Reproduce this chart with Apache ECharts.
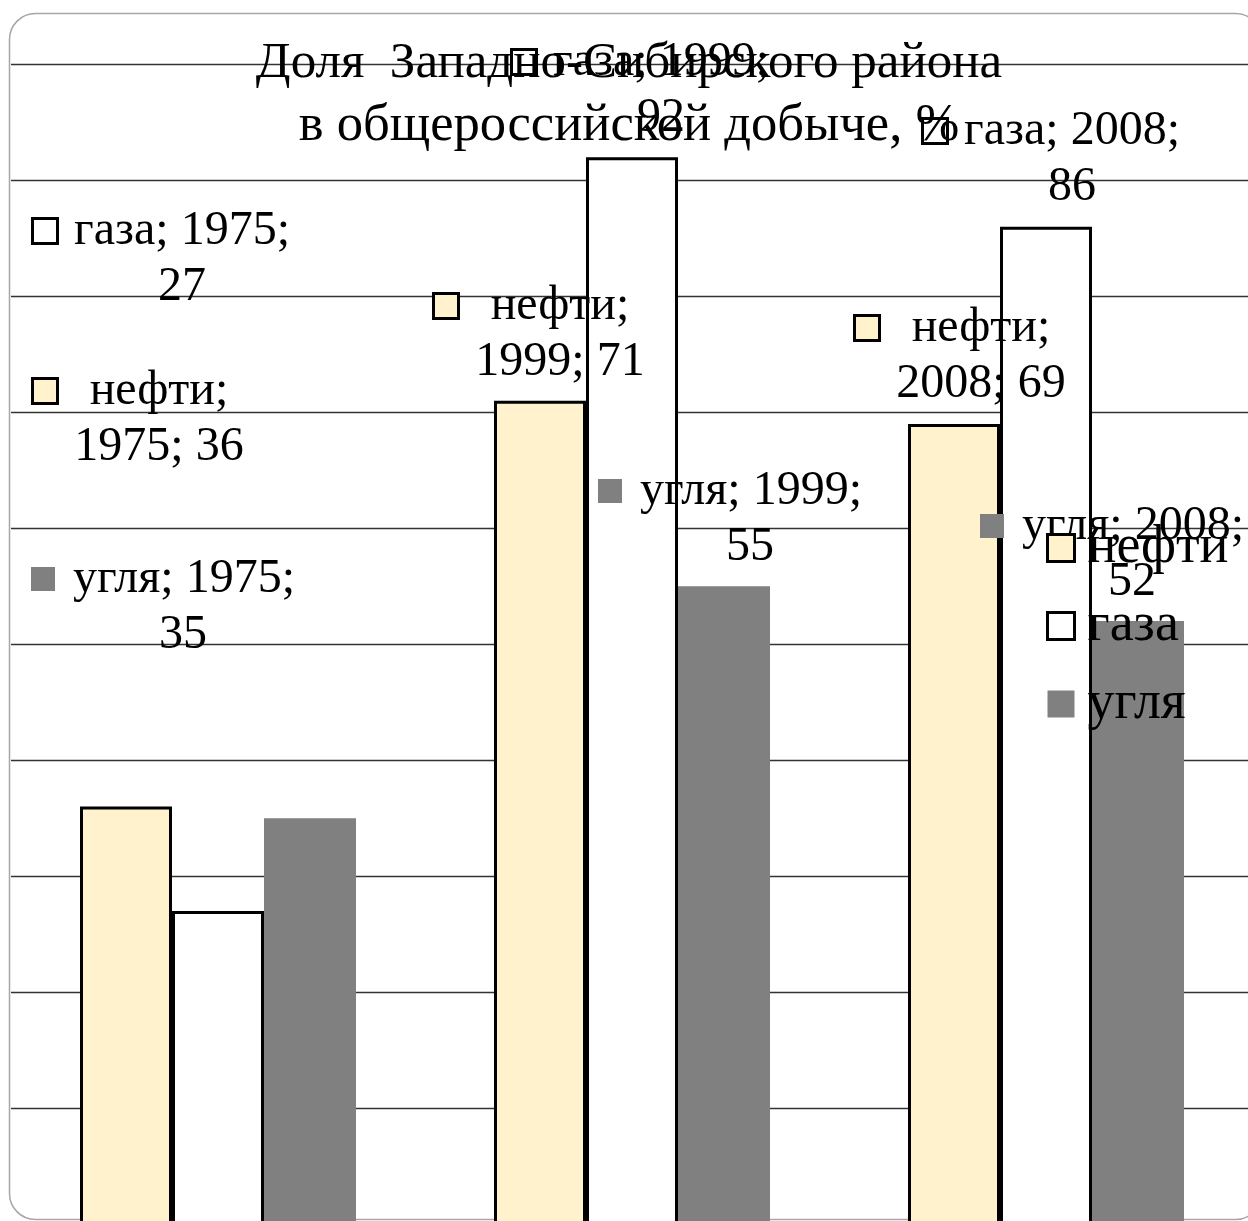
<!DOCTYPE html>
<html><head><meta charset="utf-8">
<script src="https://cdn.jsdelivr.net/npm/echarts@6/dist/echarts.min.js"></script>
<style>html,body{margin:0;padding:0;background:#fff;overflow:hidden}#c{width:1248px;height:1221px}</style>
</head><body><div id="c"></div>
<script>
// ---- data ----
const categories = ['1975', '1999', '2008'];
const seriesNames = ['нефти', 'газа', 'угля'];
const oilShare = [36, 71, 69];
const gasShare = [27, 92, 86];
const coalShare = [35, 55, 52];
const titleLines = ['Доля  Западно-Сибирского района', 'в общероссийской добыче, %'];
const yMin = 0, yMax = 100, yStep = 10;

// ---- layout / style (not data) ----
// label anchor: [text centre x, first line centre y] in px
const labelAnchors = {
  'нефти': [[159, 391], [560, 306], [981, 328]],
  'газа':  [[182, 231], [661, 62], [1072, 131]],
  'угля':  [[183, 579], [750, 491], [1132, 526]]
};
// where each series' label text wraps: after the name (нефти) or after the year
const wrapAfterName = { 'нефти': true, 'газа': false, 'угля': false };
const FONT = '"Liberation Serif", "Times New Roman", serif';
const LABEL_SIZE = 48, LINE_H = 56, KEY = 22, GAP = 18;
const fills = { 'нефти': '#FFF2CC', 'газа': '#FFFFFF', 'угля': '#808080' };
const borders = { 'нефти': 3, 'газа': 3, 'угля': 0 };
const valuesBy = { 'нефти': oilShare, 'газа': gasShare, 'угля': coalShare };

const ctx = document.createElement('canvas').getContext('2d');
ctx.font = LABEL_SIZE + 'px ' + FONT;
const tw = s => ctx.measureText(s).width;

const chart = echarts.init(document.getElementById('c'));

function itemStyleOf(n) {
  return borders[n] ? { color: fills[n], borderColor: '#000', borderWidth: borders[n] } : { color: fills[n], borderWidth: 0 };
}

const option = {
  backgroundColor: '#fff',
  animation: false,
  title: {
    text: '{a|' + titleLines[0] + '}\n{b|' + titleLines[1] + '}',
    left: 629, top: 33, textAlign: 'center', padding: 0,
    textStyle: {
      fontFamily: FONT, fontSize: 51, fontWeight: 'normal', color: '#000', lineHeight: 62,
      rich: {
        a: { fontFamily: FONT, fontSize: 51, color: '#000', lineHeight: 62 },
        b: { fontFamily: FONT, fontSize: 52.6, color: '#000', lineHeight: 62 }
      }
    }
  },
  legend: {
    orient: 'vertical', left: 1046, top: 521, itemGap: 24, itemWidth: 27, itemHeight: 27,
    icon: 'rect', padding: 0,
    itemStyle: { borderWidth: 3, borderColor: '#000' },
    textStyle: { fontFamily: FONT, fontSize: 54, lineHeight: 50, color: '#000', padding: [0, 0, 0, 8] },
    data: seriesNames.map(n => ({
      name: n,
      itemStyle: borders[n] ? { color: fills[n], borderColor: '#000', borderWidth: 3 } : { color: fills[n], borderWidth: 0, borderColor: fills[n] }
    }))
  },
  graphic: [{
    type: 'rect', z: -10, silent: true,
    shape: { x: 9.5, y: 13.5, width: 1252, height: 1206, r: 26 },
    style: { fill: 'none', stroke: '#a6a6a6', lineWidth: 1.5 }
  }],
  grid: { left: 11, right: -5, top: 64.5, bottom: -3, outerBoundsMode: 'none', containLabel: false },
  xAxis: {
    type: 'category', data: categories,
    axisLine: { show: false }, axisTick: { show: false }, axisLabel: { show: false }
  },
  yAxis: {
    type: 'value', min: yMin, max: yMax, interval: yStep,
    axisLine: { show: false }, axisTick: { show: false }, axisLabel: { show: false },
    splitLine: { show: true, lineStyle: { color: '#333', width: 1.4 } }
  },
  series: seriesNames.map(n => ({
    name: n, type: 'bar', barGap: '0%', barCategoryGap: '33.333%',
    itemStyle: itemStyleOf(n),
    data: valuesBy[n].slice()
  }))
};
chart.setOption(option);

// place data labels relative to each bar
const cx0 = chart.convertToPixel({ xAxisIndex: 0 }, categories[0]);
const cx1 = chart.convertToPixel({ xAxisIndex: 0 }, categories[1]);
const band = cx1 - cx0;
const barW = band * (1 - 0.33333) / 3;

const newSeries = seriesNames.map((n, s) => ({
  data: valuesBy[n].map((v, i) => {
    let line1, line2;
    if (wrapAfterName[n]) { line1 = n + ';'; line2 = categories[i] + '; ' + v; }
    else { line1 = n + '; ' + categories[i] + ';'; line2 = String(v); }
    const W = Math.ceil(Math.max(tw(line1), tw(line2)));
    const barCx = chart.convertToPixel({ xAxisIndex: 0 }, categories[i]) + (s - 1) * barW;
    const barTop = chart.convertToPixel({ yAxisIndex: 0 }, v);
    const [tx, ly] = labelAnchors[n][i];
    const blockCx = tx - (KEY + GAP) / 2;
    const blockCy = ly + LINE_H / 2;
    const keyStyle = borders[n]
      ? { backgroundColor: fills[n], borderColor: '#000', borderWidth: 3, width: KEY, height: KEY }
      : { backgroundColor: fills[n], width: KEY + 2, height: KEY + 2 };
    keyStyle.align = 'center'; keyStyle.lineHeight = LINE_H;
    return {
      value: v,
      label: {
        show: true, position: 'top', distance: 0,
        align: 'center', verticalAlign: 'middle',
        offset: [blockCx - barCx, blockCy - barTop],
        formatter: '{k|}{g|}{t|' + line1 + '}\n{s|}{g|}{t|' + line2 + '}',
        rich: {
          k: keyStyle,
          s: { width: KEY, align: 'center', lineHeight: LINE_H },
          g: { width: GAP, align: 'center', lineHeight: LINE_H },
          t: { width: W, align: 'center', fontFamily: FONT, fontSize: LABEL_SIZE, color: '#000', lineHeight: LINE_H }
        }
      }
    };
  })
}));
chart.setOption({ series: newSeries });
</script>
</body></html>
